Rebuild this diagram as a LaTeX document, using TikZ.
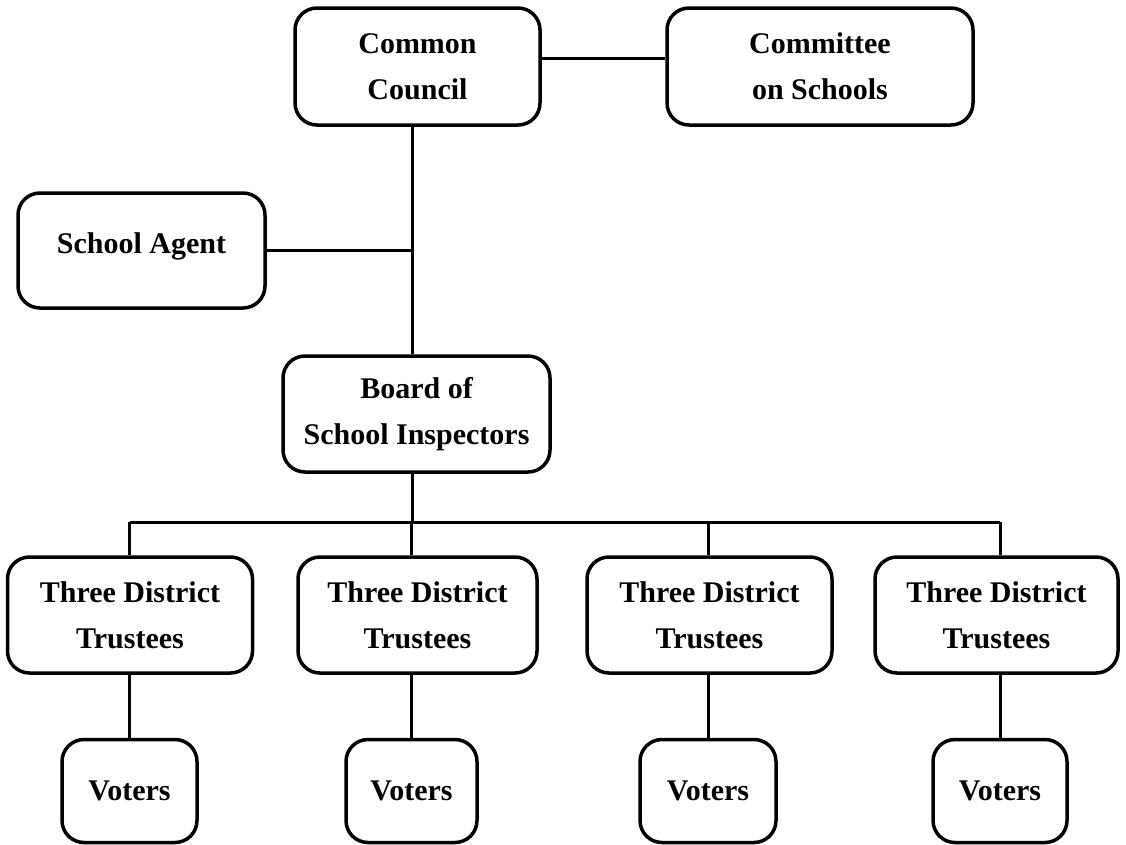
\documentclass[tikz,border=0pt]{standalone}
\usepackage{fontspec}
\setmainfont{Liberation Serif}

\tikzset{
    office/.style={draw, line width=3.5pt, rounded corners=22pt, align=center, inner sep=0pt,
        font=\fontsize{30}{46}\selectfont\bfseries},
    link/.style={line width=3pt},
}

\begin{document}
\begin{tikzpicture}[x=1pt, y=-1pt]
    \useasboundingbox (0,0) rectangle (1126,844);
    % top of the tree
    \node[office, minimum width=245pt, minimum height=117pt] (council) at (417.5,66.5) {Common\\Council};
    \node[office, minimum width=306pt, minimum height=117pt] (committee) at (820,66.5) {Committee\\on Schools};
    \node[office, minimum width=247pt, minimum height=115pt, text depth=14pt] (agent) at (141.5,250.5) {School Agent};
    \node[office, minimum width=267pt, minimum height=116pt] (board) at (416.5,414) {Board of\\School Inspectors};
    % districts
    \node[office, minimum width=245pt, minimum height=116pt] (t1) at (130,615) {Three District\\Trustees};
    \node[office, minimum width=239pt, minimum height=116pt] (t2) at (417.5,615) {Three District\\Trustees};
    \node[office, minimum width=245pt, minimum height=116pt] (t3) at (709.5,615) {Three District\\Trustees};
    \node[office, minimum width=243pt, minimum height=116pt] (t4) at (996.5,615) {Three District\\Trustees};
    \node[office, minimum width=135pt, minimum height=103pt] (v1) at (129.5,791) {Voters};
    \node[office, minimum width=131pt, minimum height=103pt] (v2) at (411.5,791) {Voters};
    \node[office, minimum width=136pt, minimum height=103pt] (v3) at (708,791) {Voters};
    \node[office, minimum width=134pt, minimum height=103pt] (v4) at (1000,791) {Voters};
    \coordinate (spine) at (412,0);
    \coordinate (bus) at (0,522);
    % connectors
    \draw[link] ([yshift=8pt]council.east) -- ([yshift=8pt]committee.west);
    \draw[link] (council.south -| spine) -- (board.north -| spine);
    \draw[link] (agent.east) -- (agent.east -| spine);
    \draw[link] (board.south -| spine) -- (bus -| spine);
    \draw[link] (bus -| v1) -- (bus -| v4);
    \foreach \i in {1,...,4} {
        \draw[link] (bus -| v\i) -- (t\i.north -| v\i);
        \draw[link] (t\i.south -| v\i) -- (v\i.north);
    }
\end{tikzpicture}
\end{document}
